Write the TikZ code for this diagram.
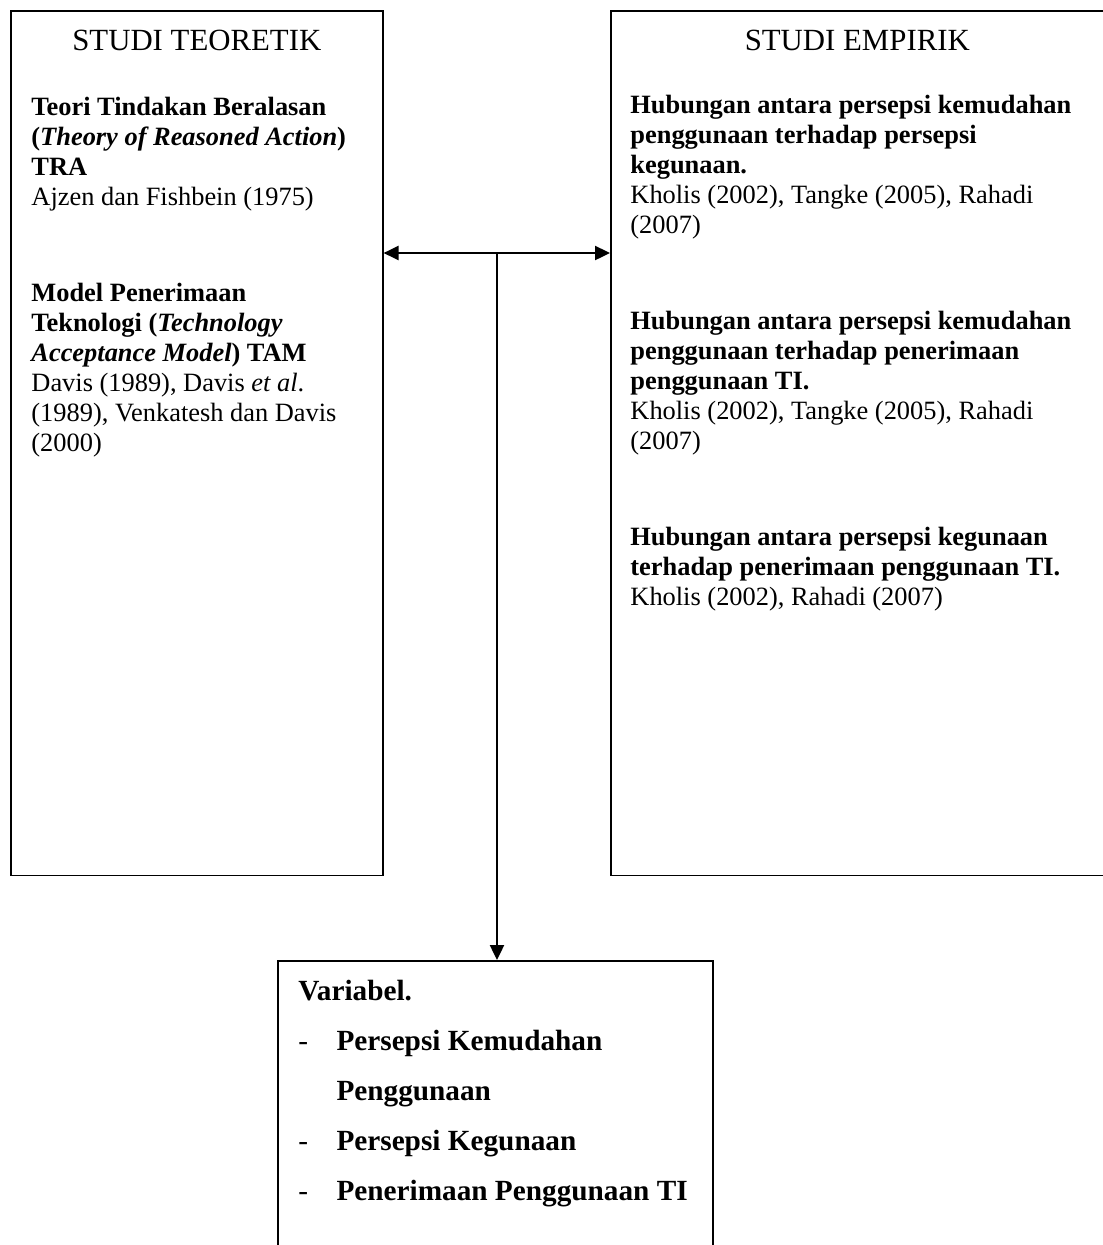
\documentclass[tikz,border=0pt]{standalone}
\usepackage{fontspec}
\setmainfont{Liberation Serif}
\usetikzlibrary{arrows.meta,calc,positioning}
\tikzstyle{box} = [draw, rectangle, line width=0.7pt, inner sep=0pt, anchor=north west]
\tikzstyle{judul} = [anchor=base, inner sep=0pt, font=\fontsize{14}{16}\selectfont]
\tikzstyle{isi} = [anchor=north west, inner sep=0pt, align=left, font=\fontsize{12}{13.64}\selectfont, execute at begin node=\strut]
\tikzstyle{line} = [draw, line width=0.9pt, >={Triangle[length=6.8pt,width=6.4pt]}]

\begin{document}
\begin{tikzpicture}[x=0.4545pt, y=-0.4545pt]
	\useasboundingbox (0,0) rectangle (1102,1245);
	\node[box, minimum width=169.1pt, minimum height=393.1pt](teori) at (10,10){};
	\node[box, minimum width=224.1pt, minimum height=393.1pt](empirik) at (610,10){};
	\node[box, minimum width=197.7pt, minimum height=140pt](variabel) at (277,960){};
	
	\node[judul](judul1) at ($(teori.north)+(0,40)$){STUDI TEORETIK};
	\node[judul](judul2) at ($(empirik.north)+(0,40)$){STUDI EMPIRIK};
	
	\node[isi](teks1) at ($(teori.north west)+(21,87)$){%
		\textbf{Teori Tindakan Beralasan}\\
		\textbf{(\textit{Theory of Reasoned Action})}\\
		\textbf{TRA}\\
		Ajzen dan Fishbein (1975)\\[30pt]
		\textbf{Model Penerimaan}\\
		\textbf{Teknologi (\textit{Technology}}\\
		\textbf{\textit{Acceptance Model}) TAM}\\
		Davis (1989), Davis \textit{et al}.\\
		(1989), Venkatesh dan Davis\\
		(2000)};
	\node[isi](teks2) at ($(empirik.north west)+(20,85)$){%
		\textbf{Hubungan antara persepsi kemudahan}\\
		\textbf{penggunaan terhadap persepsi}\\
		\textbf{kegunaan.}\\
		Kholis (2002), Tangke (2005), Rahadi\\
		(2007)\\[30pt]
		\textbf{Hubungan antara persepsi kemudahan}\\
		\textbf{penggunaan terhadap penerimaan}\\
		\textbf{penggunaan TI.}\\
		Kholis (2002), Tangke (2005), Rahadi\\
		(2007)\\[30pt]
		\textbf{Hubungan antara persepsi kegunaan}\\
		\textbf{terhadap penerimaan penggunaan TI.}\\
		Kholis (2002), Rahadi (2007)};
	\node[isi, font=\fontsize{13.3}{22.7}\selectfont\bfseries](teks3) at ($(variabel.north west)+(21,20)$){%
		Variabel.\\
		\makebox[17.3pt][l]{\mdseries -}Persepsi Kemudahan\\
		\hspace*{17.3pt}Penggunaan\\
		\makebox[17.3pt][l]{\mdseries -}Persepsi Kegunaan\\
		\makebox[17.3pt][l]{\mdseries -}Penerimaan Penggunaan TI};
	
	\coordinate (hub) at (497,253);
	\path [line,<->] (teori.east |- hub) -- (empirik.west |- hub);
	\path [line,->] (hub) -- (hub |- variabel.north);
\end{tikzpicture}
\end{document}
